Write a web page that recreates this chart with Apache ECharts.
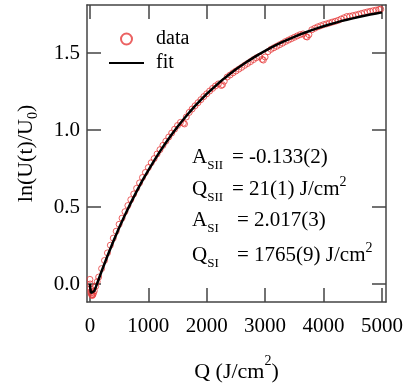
<!DOCTYPE html>
<html>
<head>
<meta charset="utf-8">
<script src="https://cdn.jsdelivr.net/npm/echarts@6/dist/echarts.min.js"></script>
<style>
  html, body { margin: 0; padding: 0; background: #fff; }
  #chart { width: 410px; height: 388px; }
</style>
</head>
<body>
<div id="chart"></div>
<script>
// measured points (red circles)
const dataQ = [0, 5, 10, 15, 20, 30, 40, 50, 60, 75, 100, 125, 150,
  200, 250, 300, 350, 400, 450, 500, 550, 600, 650, 700, 750, 800, 850, 900, 950,
  1000, 1050, 1100, 1150, 1200, 1250, 1300, 1350, 1400, 1450, 1500, 1550, 1600, 1620, 1650, 1700, 1750, 1800, 1850, 1900, 1950,
  2000, 2050, 2100, 2150, 2200, 2250, 2270, 2300, 2350, 2400, 2450, 2500, 2550, 2600, 2650, 2700, 2750, 2800, 2850, 2900, 2950, 2970,
  3000, 3050, 3100, 3150, 3200, 3250, 3300, 3350, 3400, 3450, 3500, 3550, 3600, 3650, 3700, 3720, 3750, 3800, 3850, 3900, 3950,
  4000, 4050, 4100, 4150, 4200, 4250, 4300, 4350, 4400, 4450, 4500, 4550, 4600, 4650, 4700, 4750, 4800, 4850, 4900, 4950, 4980];
const dataLn = [0.03, 0.00, -0.03, -0.05, -0.06, -0.07, -0.075, -0.07, -0.06, -0.045, -0.015, 0.015, 0.045,
  0.100, 0.153, 0.202, 0.252, 0.298, 0.343, 0.388, 0.428, 0.470, 0.510, 0.548, 0.585, 0.622, 0.657, 0.692, 0.725,
  0.757, 0.788, 0.815, 0.845, 0.873, 0.901, 0.928, 0.955, 0.981, 1.006, 1.030, 1.050, 1.045, 1.040, 1.085, 1.115, 1.137, 1.158, 1.178, 1.198, 1.218,
  1.236, 1.254, 1.271, 1.287, 1.300, 1.290, 1.295, 1.318, 1.345, 1.358, 1.372, 1.384, 1.396, 1.408, 1.421, 1.433, 1.445, 1.458, 1.470, 1.478, 1.460, 1.455,
  1.475, 1.510, 1.525, 1.535, 1.545, 1.555, 1.565, 1.576, 1.585, 1.594, 1.603, 1.612, 1.620, 1.625, 1.608, 1.605, 1.620, 1.652, 1.662, 1.671, 1.678,
  1.685, 1.690, 1.696, 1.702, 1.707, 1.713, 1.722, 1.730, 1.738, 1.740, 1.744, 1.748, 1.753, 1.758, 1.763, 1.768, 1.772, 1.776, 1.780, 1.784, 1.786];

// fit curve (black line)
const fitQ = [0, 10, 20, 30, 40, 50, 75, 100, 150, 200, 300, 400, 500, 600, 700, 800, 900,
  1000, 1100, 1200, 1300, 1400, 1500, 1600, 1700, 1800, 1900, 2000, 2100, 2200, 2300, 2400, 2500,
  2600, 2700, 2800, 2900, 3000, 3100, 3200, 3300, 3400, 3500, 3600, 3700, 3800, 3900, 4000,
  4100, 4200, 4300, 4400, 4500, 4600, 4700, 4800, 4900, 5000];
const fitLn = [0, -0.039, -0.059, -0.067, -0.068, -0.064, -0.045, -0.021, 0.031, 0.083, 0.182, 0.276, 0.365, 0.448, 0.527, 0.602, 0.673,
  0.739, 0.802, 0.862, 0.918, 0.972, 1.022, 1.069, 1.114, 1.157, 1.197, 1.235, 1.270, 1.304, 1.336, 1.366, 1.395,
  1.422, 1.447, 1.471, 1.494, 1.515, 1.536, 1.555, 1.573, 1.590, 1.606, 1.622, 1.636, 1.650, 1.663, 1.675,
  1.686, 1.697, 1.708, 1.717, 1.726, 1.735, 1.743, 1.751, 1.758, 1.765];

const xTicks = [0, 1000, 2000, 3000, 4000, 5000];
const yTicks = [0, 0.5, 1.0, 1.5];

// fit parameters: symbol, subscript, value text, unit superscript
const paramSym = ['A', 'Q', 'A', 'Q'];
const paramSub = ['SII', 'SII', 'SI', 'SI'];
const paramVal = ['= -0.133(2)', '= 21(1) J/cm', '= 2.017(3)', '= 1765(9) J/cm'];
const paramSup = ['', '2', '', '2'];

const serif = '"Liberation Serif", "Times New Roman", serif';
const frame = '#444';
const red = '#e63a3a';

const chart = echarts.init(document.getElementById('chart'));

function frameAxis(extra) {
  return Object.assign({
    type: 'value',
    axisLine: { show: true, onZero: false, lineStyle: { color: frame, width: 1.5 } },
    splitLine: { show: false },
    axisLabel: { show: false }
  }, extra);
}

const tickStyle = { color: frame, width: 1.5 };
const labelFont = { fontFamily: serif, fontSize: 21, color: '#000' };

// text rows of the parameter box
const rowY = [157, 189, 220, 255];
const eqX = [232, 232, 237, 237];
const richMain = {
  m: { fontFamily: serif, fontSize: 21, fill: '#000' },
  s: { fontFamily: serif, fontSize: 13, fill: '#000', padding: [17, 0, 0, 0] },
  p: { fontFamily: serif, fontSize: 14, fill: '#000', padding: [0, 0, 14, 0] }
};
const graphics = [];
paramSym.forEach((sym, i) => {
  graphics.push({
    type: 'text', x: 192, y: rowY[i],
    style: { text: '{m|' + sym + '}{s|' + paramSub[i] + '}', rich: richMain, verticalAlign: 'middle', align: 'left' }
  });
  graphics.push({
    type: 'text', x: eqX[i], y: rowY[i],
    style: { text: '{m|' + paramVal[i] + '}' + (paramSup[i] ? '{p|' + paramSup[i] + '}' : ''), rich: richMain, verticalAlign: 'middle', align: 'left' }
  });
});

chart.setOption({
  animation: false,
  grid: { left: 87, right: 24, top: 5, bottom: 85 },
  legend: {
    orient: 'vertical', left: 108, top: 29, padding: 0,
    itemWidth: 35, itemHeight: 11, itemGap: 4,
    textStyle: { fontFamily: serif, fontSize: 20, color: '#000', padding: [0, 0, 0, 7] },
    data: [
      { name: 'data', icon: 'circle' },
      { name: 'fit', itemStyle: { color: 'rgba(0,0,0,0)', borderColor: 'rgba(0,0,0,0)', borderWidth: 0 } }
    ]
  },
  xAxis: [
    frameAxis({
      position: 'bottom', min: -50, max: 5070,
      axisTick: { inside: true, length: 14, customValues: xTicks, lineStyle: tickStyle },
      axisLabel: Object.assign({ show: true, customValues: xTicks, margin: 14, formatter: v => String(v) }, labelFont),
      name: '{t|Q (J/cm}{p|2}{t|)}', nameLocation: 'middle', nameGap: 52,
      nameTextStyle: {
        rich: {
          t: { fontFamily: serif, fontSize: 22, color: '#000' },
          p: { fontFamily: serif, fontSize: 14, color: '#000', padding: [0, 0, 22, 0] }
        }
      }
    }),
    frameAxis({
      position: 'top', min: -50, max: 5070,
      axisTick: { inside: true, length: 14, customValues: xTicks, lineStyle: tickStyle }
    })
  ],
  yAxis: [
    frameAxis({
      position: 'left', min: -0.117, max: 1.813,
      axisTick: { inside: true, length: 14, customValues: yTicks, lineStyle: tickStyle },
      axisLabel: Object.assign({ show: true, customValues: yTicks, margin: 7, formatter: v => v.toFixed(1) }, labelFont),
      name: '{t|ln(U(t)/U}{b|0}{t|)}', nameLocation: 'middle', nameGap: 47,
      nameTextStyle: {
        rich: {
          t: { fontFamily: serif, fontSize: 22, color: '#000' },
          b: { fontFamily: serif, fontSize: 14, color: '#000', padding: [14, 0, 0, 0] }
        }
      }
    }),
    frameAxis({
      position: 'right', min: -0.117, max: 1.813,
      axisTick: { inside: true, length: 14, customValues: yTicks, lineStyle: tickStyle }
    })
  ],
  series: [
    {
      name: 'data', type: 'scatter', xAxisIndex: 0, yAxisIndex: 0,
      symbol: 'circle', symbolSize: 6,
      itemStyle: { color: 'rgba(0,0,0,0)', borderColor: red, borderWidth: 1 },
      data: dataQ.map((q, i) => [q, dataLn[i]]),
      z: 2
    },
    {
      name: 'fit', type: 'line', xAxisIndex: 0, yAxisIndex: 0,
      symbol: 'none', smooth: false,
      lineStyle: { color: '#000', width: 2.5 },
      data: fitQ.map((q, i) => [q, fitLn[i]]),
      z: 3
    }
  ],
  graphic: graphics
});
</script>
</body>
</html>
